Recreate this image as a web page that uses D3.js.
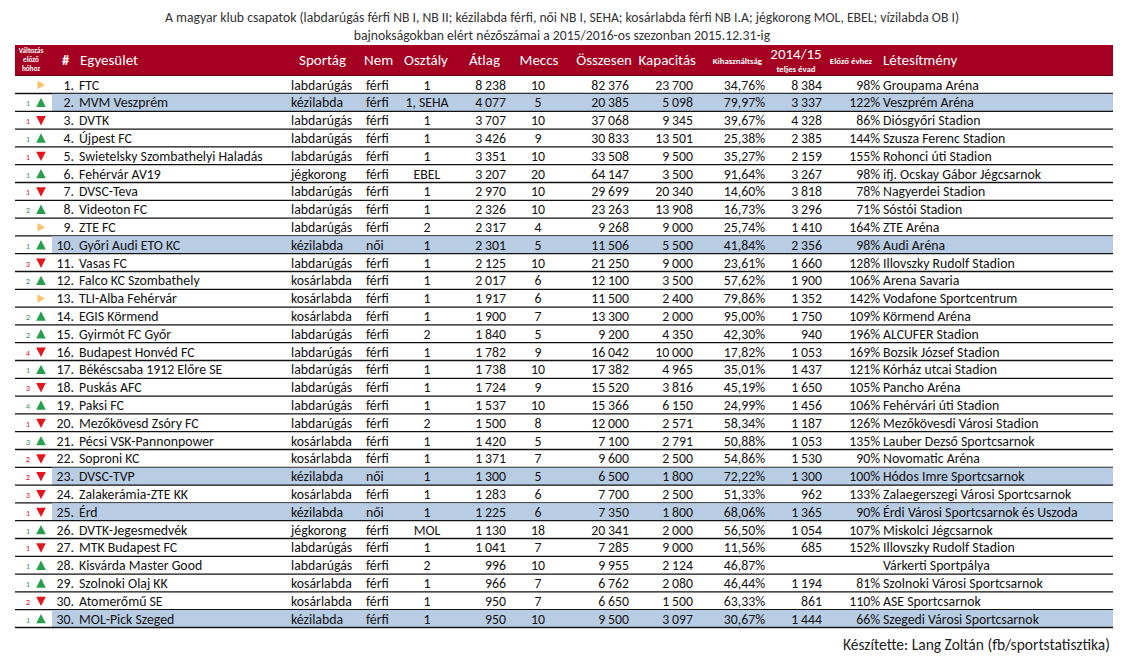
<!DOCTYPE html>
<html>
<head>
<meta charset="utf-8">
<script src="https://cdn.jsdelivr.net/npm/d3@7"></script>
<style>
  html, body { margin: 0; padding: 0; background: #fff; }
  svg { display: block; font-family: Calibri, Carlito, Lato, sans-serif; }
</style>
</head>
<body>
<svg id="chart" width="1137" height="661"></svg>
<script>
// ---------------- DATA ----------------
const titleLines = [
  "A magyar klub csapatok (labdarúgás férfi NB I, NB II; kézilabda férfi, női NB I, SEHA; kosárlabda férfi NB I.A; jégkorong MOL, EBEL; vízilabda OB I)",
  "bajnokságokban elért nézőszámai a 2015/2016-os szezonban 2015.12.31-ig"
];
const footerText = "Készítette: Lang Zoltán (fb/sportstatisztika)";

const ranks = [1,2,3,4,5,6,7,8,9,10,11,12,13,14,15,16,17,18,19,20,21,22,23,24,25,26,27,28,29,30,30];
const changeAmount = [0,1,1,1,1,1,1,2,0,1,3,2,0,2,2,4,1,3,4,1,3,2,2,3,1,1,1,1,1,2,1];
const changeDir = ["=","up","down","up","down","up","down","up","=","up","down","up","=","up","up","down","up","down","up","down","up","down","down","down","down","up","down","up","up","down","up"];
const clubs = ["FTC","MVM Veszprém","DVTK","Újpest FC","Swietelsky Szombathelyi Haladás","Fehérvár AV19","DVSC-Teva","Videoton FC","ZTE FC","Győri Audi ETO KC","Vasas FC","Falco KC Szombathely","TLI-Alba Fehérvár","EGIS Körmend","Gyirmót FC Győr","Budapest Honvéd FC","Békéscsaba 1912 Előre SE","Puskás AFC","Paksi FC","Mezőkövesd Zsóry FC","Pécsi VSK-Pannonpower","Soproni KC","DVSC-TVP","Zalakerámia-ZTE KK","Érd","DVTK-Jegesmedvék","MTK Budapest FC","Kisvárda Master Good","Szolnoki Olaj KK","Atomerőmű SE","MOL-Pick Szeged"];
const sports = ["labdarúgás","kézilabda","labdarúgás","labdarúgás","labdarúgás","jégkorong","labdarúgás","labdarúgás","labdarúgás","kézilabda","labdarúgás","kosárlabda","kosárlabda","kosárlabda","labdarúgás","labdarúgás","labdarúgás","labdarúgás","labdarúgás","labdarúgás","kosárlabda","kosárlabda","kézilabda","kosárlabda","kézilabda","jégkorong","labdarúgás","labdarúgás","kosárlabda","kosárlabda","kézilabda"];
const genders = ["férfi","férfi","férfi","férfi","férfi","férfi","férfi","férfi","férfi","női","férfi","férfi","férfi","férfi","férfi","férfi","férfi","férfi","férfi","férfi","férfi","férfi","női","férfi","női","férfi","férfi","férfi","férfi","férfi","férfi"];
const divisions = ["1","1, SEHA","1","1","1","EBEL","1","1","2","1","1","1","1","1","2","1","1","1","1","2","1","1","1","1","1","MOL","1","2","1","1","1"];
const averages = [8238,4077,3707,3426,3351,3207,2970,2326,2317,2301,2125,2017,1917,1900,1840,1782,1738,1724,1537,1500,1420,1371,1300,1283,1225,1130,1041,996,966,950,950];
const matches = [10,5,10,9,10,20,10,10,4,5,10,6,6,7,5,9,10,9,10,8,5,7,5,6,6,18,7,10,7,7,10];
const totals = [82376,20385,37068,30833,33508,64147,29699,23263,9268,11506,21250,12100,11500,13300,9200,16042,17382,15520,15366,12000,7100,9600,6500,7700,7350,20341,7285,9955,6762,6650,9500];
const capacities = [23700,5098,9345,13501,9500,3500,20340,13908,9000,5500,9000,3500,2400,2000,4350,10000,4965,3816,6150,2571,2791,2500,1800,2500,1800,2000,9000,2124,2080,1500,3097];
const utilization = [34.76,79.97,39.67,25.38,35.27,91.64,14.60,16.73,25.74,41.84,23.61,57.62,79.86,95.00,42.30,17.82,35.01,45.19,24.99,58.34,50.88,54.86,72.22,51.33,68.06,56.50,11.56,46.87,46.44,63.33,30.67];
const prevSeason = [8384,3337,4328,2385,2159,3267,3818,3296,1410,2356,1660,1900,1352,1750,940,1053,1437,1650,1456,1187,1053,1530,1300,962,1365,1054,685,null,1194,861,1444];
const vsPrev = [98,122,86,144,155,98,78,71,164,98,128,106,142,109,196,169,121,105,106,126,135,90,100,133,90,107,152,null,81,110,66];
const venues = ["Groupama Aréna","Veszprém Aréna","Diósgyőri Stadion","Szusza Ferenc Stadion","Rohonci úti Stadion","ifj. Ocskay Gábor Jégcsarnok","Nagyerdei Stadion","Sóstói Stadion","ZTE Aréna","Audi Aréna","Illovszky Rudolf Stadion","Arena Savaria","Vodafone Sportcentrum","Körmend Aréna","ALCUFER Stadion","Bozsik József Stadion","Kórház utcai Stadion","Pancho Aréna","Fehérvári úti Stadion","Mezőkövesdi Városi Stadion","Lauber Dezső Sportcsarnok","Novomatic Aréna","Hódos Imre Sportcsarnok","Zalaegerszegi Városi Sportcsarnok","Érdi Városi Sportcsarnok és Uszoda","Miskolci Jégcsarnok","Illovszky Rudolf Stadion","Várkerti Sportpálya","Szolnoki Városi Sportcsarnok","ASE Sportcsarnok","Szegedi Városi Sportcsarnok"];
const highlightSport = "kézilabda";

// ---------------- LAYOUT ----------------
const svg = d3.select("#chart");
const X0 = 15, X1 = 1113;
const headTop = 45, headBottom = 76;
const rowH = 17.8;
const n = clubs.length;
const y = d3.scaleBand().domain(d3.range(n)).range([headBottom, headBottom + n * rowH]).paddingInner(0);

const loc = d3.formatLocale({decimal: ",", thousands: "\u2009", grouping: [3], currency: ["", ""]});
const fInt = loc.format(",d");
const fPct = v => loc.format(".2f")(v) + "%";
const fPct0 = v => v == null ? "" : v + "%";

const FS = 13.8;
const txtCol = "#111";

// title
svg.append("g").selectAll("text").data(titleLines).join("text")
  .attr("x", 562).attr("y", (d, i) => 21.5 + i * 18.5)
  .attr("text-anchor", "middle").attr("font-size", 13.7).attr("fill", "#333")
  .text(d => d);

// header band
svg.append("rect").attr("x", X0).attr("y", headTop).attr("width", X1 - X0).attr("height", headBottom - headTop)
  .attr("fill", "#a50021");
svg.append("line").attr("x1", X0).attr("x2", X1).attr("y1", headBottom - 0.5).attr("y2", headBottom - 0.5)
  .attr("stroke", "#5a0012").attr("stroke-width", 1);

const hdr = svg.append("g").attr("fill", "#fff");
const hy = 65;
const headers = [
  {t: "#", x: 62, a: "start", s: 14.5, w: "bold"},
  {t: "Egyesület", x: 80, a: "start", s: 15},
  {t: "Sportág", x: 346, a: "end", s: 15},
  {t: "Nem", x: 364, a: "start", s: 15},
  {t: "Osztály", x: 426, a: "middle", s: 15},
  {t: "Átlag", x: 500, a: "end", s: 15},
  {t: "Meccs", x: 539, a: "middle", s: 15},
  {t: "Összesen", x: 632, a: "end", s: 15},
  {t: "Kapacitás", x: 696, a: "end", s: 15},
  {t: "Kihasználtság", x: 762, a: "end", s: 8.8, w: "bold", y: 64},
  {t: "2014/15", x: 796, a: "middle", s: 15, y: 59},
  {t: "teljes évad", x: 796, a: "middle", s: 8.8, w: "bold", y: 72},
  {t: "Előző évhez", x: 851, a: "middle", s: 8.8, w: "bold", y: 64},
  {t: "Létesítmény", x: 883, a: "start", s: 15}
];
hdr.selectAll("text.h").data(headers).join("text").attr("class", "h")
  .attr("x", d => d.x).attr("y", d => d.y || hy)
  .attr("text-anchor", d => d.a).attr("font-size", d => d.s)
  .attr("font-weight", d => d.w || "normal").text(d => d.t);
hdr.selectAll("text.c").data(["Változás", "előző", "hóhoz"]).join("text").attr("class", "c")
  .attr("x", 31).attr("y", (d, i) => 53 + i * 9)
  .attr("text-anchor", "middle").attr("font-size", 7.2).attr("font-weight", "bold").text(d => d);

// rows
const rows = svg.append("g").selectAll("g.row").data(d3.range(n)).join("g").attr("class", "row")
  .attr("transform", i => `translate(0,${y(i)})`);

rows.filter(i => sports[i] === highlightSport).append("rect")
  .attr("x", 52).attr("y", 0).attr("width", X1 - 52).attr("height", rowH)
  .attr("fill", "#b8cce4");

rows.append("line").attr("x1", X0).attr("x2", X1)
  .attr("y1", rowH - 0.3).attr("y2", rowH - 0.3).attr("stroke", "#111").attr("stroke-width", 1.3);

const baseY = rowH / 2 + 4.8;
const green = "#27a04e", red = "#e3161e", orange = "#fbc16b";

// change number
rows.filter(i => changeDir[i] !== "=").append("text")
  .attr("x", 30).attr("y", baseY - 1).attr("text-anchor", "end").attr("font-size", 8.5)
  .attr("fill", i => changeDir[i] === "up" ? "#3a9a5a" : "#d8232a")
  .text(i => changeAmount[i]);

// triangle markers
rows.append("path")
  .attr("transform", `translate(41,${rowH / 2})`)
  .attr("d", i => {
    const p = d3.path();
    if (changeDir[i] === "up") { p.moveTo(0, -5); p.lineTo(4.8, 4.4); p.lineTo(-4.8, 4.4); }
    else if (changeDir[i] === "down") { p.moveTo(-4.8, -4.4); p.lineTo(4.8, -4.4); p.lineTo(0, 5); }
    else { p.moveTo(-3.5, -4.3); p.lineTo(4, 0); p.lineTo(-3.5, 4.3); }
    p.closePath();
    return p.toString();
  })
  .attr("fill", i => changeDir[i] === "up" ? green : changeDir[i] === "down" ? red : orange);

const cols = [
  {x: 74, a: "end", v: i => ranks[i] + "."},
  {x: 79, a: "start", v: i => clubs[i]},
  {x: 291, a: "start", v: i => sports[i]},
  {x: 366, a: "start", v: i => genders[i]},
  {x: 427, a: "middle", v: i => divisions[i]},
  {x: 506, a: "end", v: i => fInt(averages[i])},
  {x: 538, a: "middle", v: i => matches[i]},
  {x: 629, a: "end", v: i => fInt(totals[i])},
  {x: 693, a: "end", v: i => fInt(capacities[i])},
  {x: 765, a: "end", v: i => fPct(utilization[i])},
  {x: 822, a: "end", v: i => prevSeason[i] == null ? "" : fInt(prevSeason[i])},
  {x: 880, a: "end", v: i => fPct0(vsPrev[i])},
  {x: 883, a: "start", v: i => venues[i]}
];
cols.forEach(c => {
  rows.append("text").attr("x", c.x).attr("y", baseY).attr("text-anchor", c.a)
    .attr("font-size", FS).attr("fill", txtCol).text(c.v);
});

// footer
svg.append("text").attr("x", 1110).attr("y", 650).attr("text-anchor", "end")
  .attr("font-size", 15.5).attr("fill", "#222").text(footerText);
</script>
</body>
</html>
